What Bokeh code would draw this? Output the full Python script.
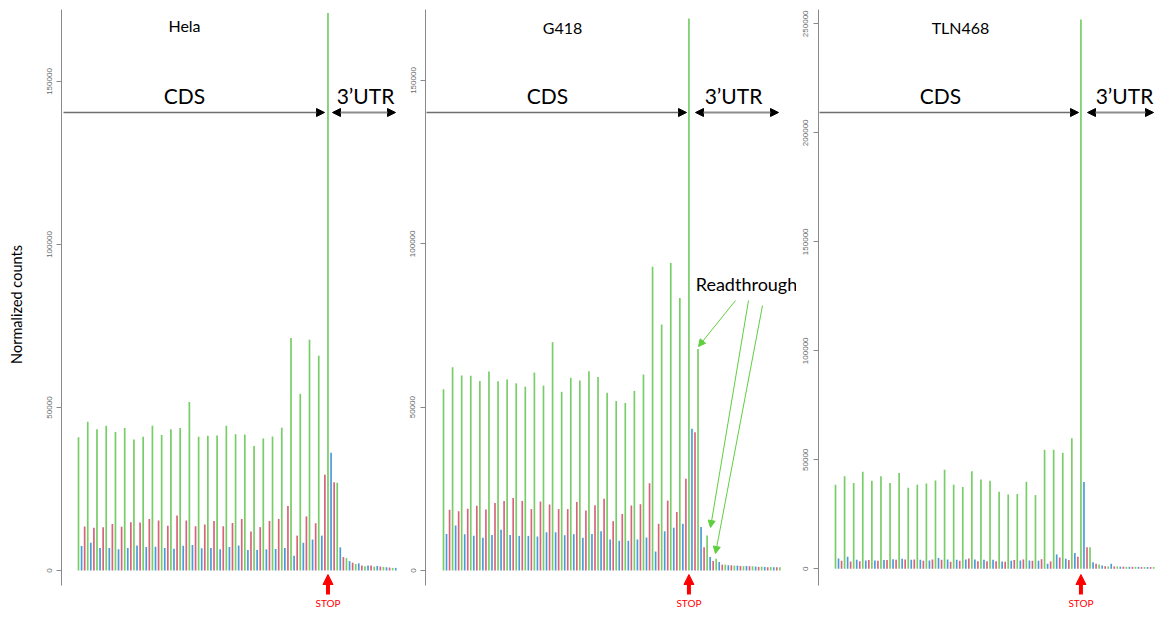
from bokeh.plotting import figure
from bokeh.layouts import row
from bokeh.models import (Label, Arrow, NormalHead, FixedTicker, BasicTickFormatter,
                          Range1d, ColumnDataSource, LinearAxis)
from bokeh.embed import file_html
from bokeh.resources import INLINE

# ---------------- data (normalized counts per nucleotide, codon by codon) ----------------
# frame 0 (green) = 1st nt of codon, frame 1 (blue) = 2nd nt, frame 2 (red) = 3rd nt
panel_titles = ["Hela", "G418", "TLN468"]
stop_codon = [28, 28, 28]

hela_frame0 = [40900, 45600, 43300, 44400, 42500, 43700, 40200, 41000, 44400, 41600,
               43300, 43700, 51700, 41000, 41300, 41400, 44400, 41800, 41700, 38200,
               40500, 41100, 43800, 71300, 54200, 70800, 65900, 171000, 26900, 3800,
               2000, 1300, 1200, 1100, 800]
hela_frame1 = [7500, 8500, 6900, 6900, 6500, 6900, 7700, 7200, 7300, 6900,
               6700, 7600, 7800, 6800, 6900, 6500, 7200, 7700, 6300, 6300,
               6500, 6600, 6900, 4500, 8500, 9500, 10700, 36100, 7100, 2900,
               2200, 1500, 1400, 1000, 800]
hela_frame2 = [13500, 13100, 13300, 14300, 13400, 14800, 14700, 15800, 15300, 13700,
               16900, 15300, 13600, 14100, 15200, 13600, 14600, 15800, 12000, 13300,
               15200, 15800, 19800, 10700, 16600, 14500, 29400, 27100, 4100, 2400,
               1500, 1500, 1200, 900]

g418_frame0 = [55500, 62200, 59700, 59600, 58000, 60900, 57900, 58500, 57300, 56300,
               60600, 56600, 69900, 54700, 59000, 58200, 61000, 59200, 54400, 51900,
               51300, 55000, 60000, 93000, 75300, 94100, 83400, 169000, 67800, 10700,
               3600, 1800, 1500, 1300, 1300, 1200, 1100, 1000]
g418_frame1 = [11200, 13800, 11100, 10600, 10000, 10900, 12500, 10900, 10600, 10600,
               10400, 11700, 11700, 10800, 11100, 10000, 11200, 12000, 9500, 9100,
               9100, 9500, 10100, 5800, 12000, 13100, 14300, 43400, 13300, 4100,
               2600, 1600, 1500, 1400, 1200, 1100, 1000]
g418_frame2 = [18600, 18100, 18900, 19800, 18700, 20700, 21300, 22200, 21300, 18800,
               21100, 20200, 18800, 18800, 21000, 18400, 20000, 22000, 15100, 17300,
               19900, 20300, 26700, 14300, 21400, 17900, 28100, 42300, 7100, 2900,
               1800, 1600, 1400, 1300, 1100, 1000, 1000]

tln_frame0 = [38500, 42500, 39400, 44500, 40400, 42500, 39400, 43900, 37200, 38500,
              39100, 40500, 45400, 38500, 37500, 44800, 41000, 40400, 35300, 34100,
              34300, 39900, 33800, 54600, 54600, 53200, 59900, 252000, 9900, 2000,
              1100, 1100, 900, 900, 800, 800, 800, 700]
tln_frame1 = [4700, 5500, 4100, 3800, 3800, 4000, 4400, 4600, 4100, 4100,
              3800, 5000, 4300, 4100, 4300, 4300, 4100, 4100, 3400, 3700,
              3800, 3800, 3700, 2300, 6600, 4600, 7300, 39800, 3000, 1500,
              2300, 1000, 900, 900, 800, 800, 700]
tln_frame2 = [3700, 3400, 3500, 4000, 3700, 4000, 4100, 4300, 4300, 3700,
              4300, 4100, 3200, 3700, 4700, 3500, 3500, 3500, 3200, 4000,
              4300, 3700, 4400, 3400, 5200, 4000, 5500, 9900, 2300, 1200,
              1100, 1000, 900, 800, 800, 800, 700]

y_ticks = [[0, 50000, 100000, 150000],
           [0, 50000, 100000, 150000],
           [0, 50000, 100000, 150000, 200000, 250000]]

frames = [(hela_frame0, hela_frame1, hela_frame2),
          (g418_frame0, g418_frame1, g418_frame2),
          (tln_frame0, tln_frame1, tln_frame2)]

# ---------------- layout (pixel geometry of the picture) ----------------
H = 608
layout = [
    # fig_left, fig_right, frame_left, x of nt0, px per nt, y of zero, px per count
    dict(fl=0, fr=400, frl=61, x0=78, pxn=3.08, y0=570, ppc=163 / 50000),
    dict(fl=400, fr=796, frl=425, x0=443, pxn=3.03, y0=570, ppc=490 / 150000),
    dict(fl=796, fr=1155, frl=818, x0=835, pxn=3.03, y0=568.3, ppc=109 / 50000),
]
texts = [
    dict(title=(184, 25), cds=(184, 95), utr=(365, 95), cds_ar=(63, 324), utr_ar=(332, 395)),
    dict(title=(562, 27), cds=(547, 95), utr=(733, 95), cds_ar=(426, 686), utr_ar=(695, 778)),
    dict(title=(960, 27), cds=(940, 95), utr=(1124, 95), cds_ar=(819, 1078), utr_ar=(1087, 1153)),
]

GREEN, BLUE, RED = "#77cd66", "#4a9bd8", "#d9637a"
SLIDE_FONT = "Lato"

figs = []
for k in range(3):
    L = layout[k]
    dx = lambda rx, L=L: (rx - L["x0"]) / L["pxn"]
    dy = lambda ry, L=L: (L["y0"] - ry) / L["ppc"]
    p = figure(width=L["fr"] - L["fl"], height=H,
               x_range=Range1d(dx(L["frl"]), dx(L["fr"])),
               y_range=Range1d(dy(H), dy(0)),
               x_axis_location=None, toolbar_location=None, output_backend="svg",
               min_border_left=L["frl"] - L["fl"], min_border_right=0,
               min_border_top=0, min_border_bottom=0)
    p.grid.visible = False
    p.outline_line_color = None
    p.background_fill_color = "white"

    ax = p.yaxis[0]
    ax.ticker = FixedTicker(ticks=y_ticks[k], minor_ticks=[])
    ax.formatter = BasicTickFormatter(use_scientific=False)
    ax.major_label_orientation = "vertical"
    ax.major_label_text_font = "Liberation Sans"
    ax.major_label_text_font_size = "8px"
    ax.major_label_text_color = "#6a6a6a"
    ax.major_label_standoff = 5
    ax.major_tick_out = 5
    ax.major_tick_in = 0
    ax.minor_tick_out = 0
    ax.axis_line_color = "#8a8a8a"
    ax.major_tick_line_color = "#8a8a8a"
    ax.bounds = (dy(585), dy(9))

    if k == 0:
        # a bare extra axis only to carry the y title
        lab_ax = LinearAxis(ticker=FixedTicker(ticks=[], minor_ticks=[]),
                            axis_line_color=None, major_tick_line_color=None,
                            minor_tick_line_color=None, major_label_text_color=None,
                            axis_label="Normalized counts",
                            axis_label_text_font=SLIDE_FONT,
                            axis_label_text_font_size="14.5px",
                            axis_label_text_font_style="normal",
                            axis_label_text_color="black",
                            axis_label_standoff=19,
                            bounds=(dy(585), dy(65)))
        p.add_layout(lab_ax, "left")

    f0, f1, f2 = frames[k]
    for vals, off, col in ((f0, 0, GREEN), (f1, 1, BLUE), (f2, 2, RED)):
        src = ColumnDataSource(dict(x=[3 * i + off for i in range(len(vals))], top=vals))
        p.vbar(x="x", top="top", bottom=0, width=0.55, source=src,
               fill_color=col, line_color=None)

    T = texts[k]
    p.add_layout(Label(x=dx(T["title"][0]), y=dy(T["title"][1]), text=panel_titles[k],
                       text_align="center", text_baseline="middle",
                       text_font=SLIDE_FONT, text_font_size="16px", text_color="black"))
    p.add_layout(Label(x=dx(T["cds"][0]), y=dy(T["cds"][1]), text="CDS",
                       text_align="center", text_baseline="middle",
                       text_font=SLIDE_FONT, text_font_size="21px", text_color="black"))
    p.add_layout(Label(x=dx(T["utr"][0]), y=dy(T["utr"][1]), text="3\u2019UTR",
                       text_align="center", text_baseline="middle",
                       text_font=SLIDE_FONT, text_font_size="21px", text_color="black"))
    ya = dy(112)
    p.add_layout(Arrow(x_start=dx(T["cds_ar"][0]), y_start=ya, x_end=dx(T["cds_ar"][1]), y_end=ya,
                       line_color="#6e6e6e", line_width=1.5,
                       end=NormalHead(size=8, fill_color="black", line_color="black")))
    p.add_layout(Arrow(x_start=dx(T["utr_ar"][0]), y_start=ya, x_end=dx(T["utr_ar"][1]), y_end=ya,
                       line_color="#8c8c8c", line_width=2,
                       start=NormalHead(size=8, fill_color="black", line_color="black"),
                       end=NormalHead(size=8, fill_color="black", line_color="black")))

    # STOP marker under the stop codon
    sx = 3 * (stop_codon[k] - 1)
    p.add_layout(Arrow(x_start=sx, y_start=dy(594), x_end=sx, y_end=dy(574),
                       line_color="#ff0000", line_width=4,
                       end=NormalHead(size=10, fill_color="#ff0000", line_color="#ff0000")))
    p.add_layout(Label(x=sx, y=dy(602), text="STOP", text_align="center", text_baseline="middle",
                       text_font=SLIDE_FONT, text_font_size="10px", text_color="#ff0000"))

    if k == 1:
        p.add_layout(Label(x=dx(746), y=dy(283), text="Readthrough", text_align="center",
                           text_baseline="middle", text_font=SLIDE_FONT,
                           text_font_size="18px", text_color="black"))
        for (xs, ys, xe, ye) in ((735, 300, 698, 346), (748, 300, 710, 527), (762, 305, 715, 553)):
            p.add_layout(Arrow(x_start=dx(xs), y_start=dy(ys), x_end=dx(xe), y_end=dy(ye),
                               line_color="#5fcf3f", line_width=1,
                               end=NormalHead(size=7, fill_color="#5fcf3f", line_color="#5fcf3f")))
    figs.append(p)

layout_row = row(*figs, spacing=0)
open("out.html", "w").write(file_html(layout_row, INLINE))
